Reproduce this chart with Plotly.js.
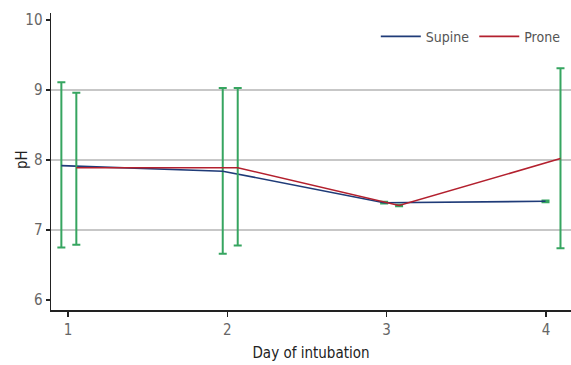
<!DOCTYPE html>
<html>
<head>
<meta charset="utf-8">
<script src="https://cdn.plot.ly/plotly-3.0.1.min.js"></script>
<style>html,body{margin:0;padding:0;background:#fff;}#chart{width:571px;height:365px;}</style>
</head>
<body>
<div id="chart"></div>
<script>
const days = [1, 2, 3, 4];
const supineMean = [7.92, 7.84, 7.39, 7.41];
const supinePlus = [1.19, 1.19, 0.012, 0.012];
const supineMinus = [1.17, 1.18, 0.012, 0.012];
const proneMean = [7.89, 7.89, 7.35, 8.02];
const pronePlus = [1.07, 1.14, 0.012, 1.29];
const proneMinus = [1.10, 1.11, 0.012, 1.28];
const yTicks = [6, 7, 8, 9, 10];

const FONT = 'DejaVu Sans Condensed, Liberation Sans Narrow, Arial Narrow, Roboto, sans-serif';
const errColor = '#36a560';

// slight horizontal spread so the two series' error bars don't overlap
const spread = 1.013;
const supineX = days.map(d => (d - 1) * spread + 0.958);
const proneX = days.map(d => (d - 1) * spread + 1.052);

const traces = [
  {
    name: 'Supine', x: supineX, y: supineMean, type: 'scatter', mode: 'lines',
    line: {color: '#1f3b78', width: 1.6},
    error_y: {type: 'data', symmetric: false, array: supinePlus, arrayminus: supineMinus,
      color: errColor, thickness: 2, width: 4}
  },
  {
    name: 'Prone', x: proneX, y: proneMean, type: 'scatter', mode: 'lines',
    line: {color: '#b3202e', width: 1.6},
    error_y: {type: 'data', symmetric: false, array: pronePlus, arrayminus: proneMinus,
      color: errColor, thickness: 2, width: 4}
  }
];

const layout = {
  width: 571, height: 365,
  margin: {l: 51, r: 0, t: 13, b: 55},
  paper_bgcolor: '#fff', plot_bgcolor: '#fff',
  font: {family: FONT, size: 14, color: '#555'},
  showlegend: true,
  legend: {orientation: 'h', x: 0.99, xanchor: 'right', y: 0.92, yanchor: 'middle',
    font: {family: FONT, size: 14, color: '#555'}, bgcolor: 'rgba(0,0,0,0)', itemwidth: 40},
  xaxis: {
    range: [0.893, 4.157], tickvals: days, ticktext: days.map(String),
    showgrid: false, zeroline: false, showline: true, linecolor: '#222', linewidth: 1.5,
    ticks: 'outside', ticklen: 5, tickcolor: '#222', tickwidth: 1.2,
    tickfont: {family: FONT, size: 15, color: '#666'},
    title: {text: 'Day of intubation', font: {family: FONT, size: 15, color: '#222'}, standoff: 10}
  },
  yaxis: {
    range: [5.857, 10.1], tickvals: yTicks, ticktext: yTicks.map(String),
    showgrid: false, zeroline: false, showline: true, linecolor: '#222', linewidth: 1.5,
    ticks: 'outside', ticklen: 4, tickcolor: '#222', tickwidth: 1.2,
    tickfont: {family: FONT, size: 15, color: '#666'}
  },
  annotations: [{
    text: 'pH', xref: 'paper', yref: 'y', x: -29 / 520, y: 8, textangle: -90,
    showarrow: false, xanchor: 'center', yanchor: 'middle',
    font: {family: FONT, size: 15, color: '#222'}
  }],
  shapes: [7, 8, 9].map(v => ({type: 'line', xref: 'paper', x0: 0, x1: 1, yref: 'y', y0: v, y1: v,
    line: {color: '#b5b5b5', width: 1.5}, layer: 'below'}))
};

Plotly.newPlot('chart', traces, layout, {displayModeBar: false, staticPlot: true});
</script>
</body>
</html>
